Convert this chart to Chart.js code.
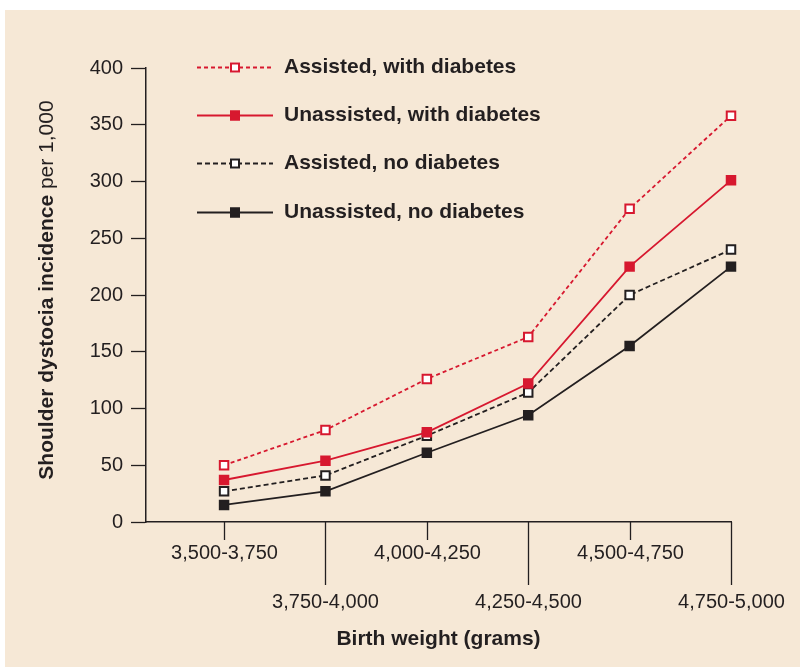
<!DOCTYPE html>
<html>
<head>
<meta charset="utf-8">
<script src="https://cdn.jsdelivr.net/npm/chart.js@4.4.1/dist/chart.umd.min.js"></script>
<style>
  html, body { margin: 0; padding: 0; background: #fff; }
  canvas { display: block; }
</style>
</head>
<body>
<canvas id="chart" width="800" height="667"></canvas>
<script>
const canvas = document.getElementById('chart');

// birth weight bands (grams)
const categories = ['3,500-3,750', '3,750-4,000', '4,000-4,250', '4,250-4,500', '4,500-4,750', '4,750-5,000'];

// incidence per 1,000
const assistedDiabetes = [50, 81, 126, 163, 276, 358];
const unassistedDiabetes = [37, 54, 79, 122, 225, 301];
const assistedNoDiabetes = [27, 41, 76, 114, 200, 240];
const unassistedNoDiabetes = [15, 27, 61, 94, 155, 225];

const yTicks = [0, 50, 100, 150, 200, 250, 300, 350, 400];

const RED = '#d7182f';
const DARK = '#231f20';
const BG = '#f6e8d6';
const TEXT = '#231f20';
const FONT = "'Liberation Sans', Arial, sans-serif";
const NARROW = "'Liberation Sans Narrow', 'Liberation Sans', Arial, sans-serif";

function pts(arr) {
    return arr.map((v, i) => ({ x: i, y: v }));
}

const series = [
    { label: 'Assisted, with diabetes', data: assistedDiabetes, color: RED, dash: [4, 3], open: true },
    { label: 'Unassisted, with diabetes', data: unassistedDiabetes, color: RED, dash: [], open: false },
    { label: 'Assisted, no diabetes', data: assistedNoDiabetes, color: DARK, dash: [5, 3], open: true },
    { label: 'Unassisted, no diabetes', data: unassistedNoDiabetes, color: DARK, dash: [], open: false }
];

const datasets = series.map(s => ({
    label: s.label,
    data: pts(s.data),
    borderColor: s.color,
    borderWidth: 1.8,
    borderDash: s.dash,
    pointStyle: 'rect',
    pointRadius: 6,
    pointHoverRadius: 6,
    pointBorderWidth: 2,
    pointBorderColor: s.color,
    pointBackgroundColor: s.open ? '#ffffff' : s.color,
    tension: 0,
    clip: false
}));

// background, tick marks, x labels, y title, legend
const decor = {
    id: 'decor',
    beforeDraw(chart) {
        const ctx = chart.ctx;
        ctx.save();
        ctx.fillStyle = '#ffffff';
        ctx.fillRect(0, 0, chart.width, chart.height);
        ctx.fillStyle = BG;
        ctx.fillRect(5, 10, chart.width - 5, chart.height - 10);
        ctx.restore();
    },
    afterDraw(chart) {
        const ctx = chart.ctx;
        const xs = chart.scales.x;
        const area = chart.chartArea;
        ctx.save();

        // x tick marks + labels, alternating rows
        ctx.strokeStyle = DARK;
        ctx.lineWidth = 1.3;
        ctx.fillStyle = TEXT;
        ctx.font = '20px ' + NARROW;
        ctx.textAlign = 'center';
        ctx.textBaseline = 'middle';
        categories.forEach((c, i) => {
            const px = Math.round(xs.getPixelForValue(i)) + 0.5;
            const len = i % 2 === 0 ? 18 : 63;
            ctx.beginPath();
            ctx.moveTo(px, area.bottom);
            ctx.lineTo(px, area.bottom + len);
            ctx.stroke();
            ctx.fillText(c, px, area.bottom + (i % 2 === 0 ? 31 : 80));
        });

        // y axis title: bold + regular part
        const t1 = 'Shoulder dystocia incidence ';
        const t2 = 'per 1,000';
        const bold = 'bold 21px ' + FONT;
        const reg = '21px ' + FONT;
        ctx.font = bold;
        const w1 = ctx.measureText(t1).width;
        ctx.font = reg;
        const w2 = ctx.measureText(t2).width;
        ctx.translate(47, 290);
        ctx.rotate(-Math.PI / 2);
        ctx.textAlign = 'left';
        let sx = -(w1 + w2) / 2;
        ctx.font = bold;
        ctx.fillText(t1, sx, 0);
        ctx.font = reg;
        ctx.fillText(t2, sx + w1, 0);
        ctx.setTransform(1, 0, 0, 1, 0, 0);
        ctx.scale(chart.currentDevicePixelRatio, chart.currentDevicePixelRatio);

        // legend
        const rows = [67, 115, 163, 212];
        chart.data.datasets.forEach((ds, i) => {
            const y = rows[i] + 0.5;
            ctx.strokeStyle = ds.borderColor;
            ctx.lineWidth = 1.8;
            ctx.setLineDash(ds.borderDash);
            ctx.beginPath();
            ctx.moveTo(197, y);
            ctx.lineTo(273, y);
            ctx.stroke();
            ctx.setLineDash([]);
            ctx.fillStyle = ds.pointBackgroundColor;
            ctx.fillRect(230, y - 5, 10, 10);
            ctx.lineWidth = 2;
            ctx.strokeRect(231, y - 4, 8, 8);
            ctx.fillStyle = TEXT;
            ctx.font = 'bold 21px ' + FONT;
            ctx.textAlign = 'left';
            ctx.textBaseline = 'middle';
            ctx.fillText(ds.label, 284, y);
        });
        ctx.restore();
    }
};

const config = {
    type: 'line',
    data: { datasets: datasets },
    options: {
        responsive: false,
        animation: false,
        events: [],
        layout: { padding: { top: 68, right: 69, left: 0, bottom: 10 } },
        plugins: {
            legend: { display: false },
            tooltip: { enabled: false }
        },
        scales: {
            x: {
                type: 'linear',
                min: -0.77,
                max: 5,
                afterBuildTicks: (s) => { s.ticks = categories.map((c, i) => ({ value: i })); },
                afterFit: (s) => { s.height = 135; },
                grid: { display: false, drawTicks: false },
                border: { display: true, color: DARK, width: 1.5 },
                ticks: { display: false },
                title: {
                    display: true,
                    text: 'Birth weight (grams)',
                    color: TEXT,
                    font: { family: NARROW, size: 21, weight: 'bold' },
                    padding: { top: 0, bottom: 5 }
                }
            },
            y: {
                min: 0,
                max: 400,
                afterBuildTicks: (s) => { s.ticks = yTicks.map(v => ({ value: v })); },
                afterFit: (s) => { s.width = 146; },
                grid: { drawOnChartArea: false, tickLength: 15, color: DARK, tickColor: DARK, tickWidth: 1.3 },
                border: { display: true, color: DARK, width: 1.5 },
                ticks: {
                    color: TEXT,
                    padding: 8,
                    font: { family: FONT, size: 20 }
                }
            }
        }
    },
    plugins: [decor]
};

const chart = new Chart(canvas, config);
</script>
</body>
</html>
